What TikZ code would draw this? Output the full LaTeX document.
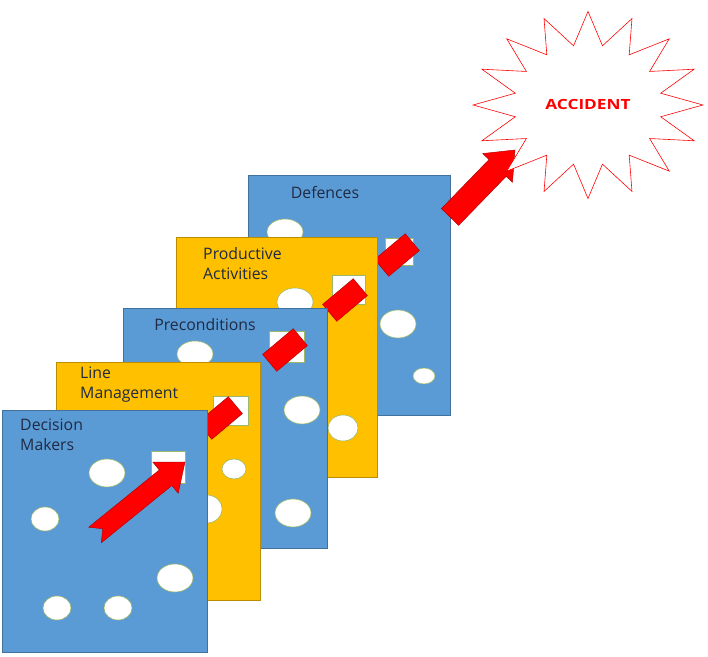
\documentclass[tikz,border=0pt]{standalone}
\usepackage{fontspec}
\setmainfont{Open Sans}
\usetikzlibrary{shapes.geometric, calc}
\definecolor{layerblue}{HTML}{5B9BD5}
\definecolor{layeryellow}{HTML}{FFC000}
\definecolor{bluedge}{HTML}{41719C}
\definecolor{yellowedge}{HTML}{BC8C00}
\definecolor{holeedge}{HTML}{9DB86A}
\definecolor{textdark}{HTML}{1F2A44}
\newcommand{\redarrow}[6]{%
  \fill[red, draw=red!70!black, line width=0.4pt]
    ($(#1)!#6!(#2)$) -- ($(#1)!#3!90:(#2)$)
    -- ($($(#2)!#5!(#1)$)!#3!90:(#2)$) -- ($($(#2)!#5!(#1)$)!#4!90:(#2)$)
    -- (#2)
    -- ($($(#2)!#5!(#1)$)!#4!-90:(#2)$) -- ($($(#2)!#5!(#1)$)!#3!-90:(#2)$)
    -- ($(#1)!#3!-90:(#2)$) -- cycle;}
\tikzset{
  bluelayer/.style={fill=layerblue, draw=bluedge, line width=0.6pt},
  yellowlayer/.style={fill=layeryellow, draw=yellowedge, line width=0.6pt},
  hole/.style={fill=white, draw=holeedge, line width=0.5pt},
  window/.style={fill=white, draw=holeedge, line width=0.4pt},
  piece/.style={rectangle, fill=red, draw=red!70!black, line width=0.4pt,
                minimum width=1.2cm, minimum height=0.66cm, rotate=40, inner sep=0pt},
  layertext/.style={font=\fontsize{13.5}{17}\selectfont, text=textdark, align=left, inner sep=0pt},
}
\begin{document}
\begin{tikzpicture}[x=0.03cm, y=0.03cm]
  \useasboundingbox (0,0) rectangle (708,657);

  %% Defences
  \draw[bluelayer] (248,242) rectangle (450,482);
  \node[layertext] (deftext) at (325,464) {Defences};
  \draw[hole] (285,425) ellipse [x radius=18, y radius=13];
  \draw[hole] (398,333) ellipse [x radius=18, y radius=14];
  \draw[hole] (424,281) ellipse [x radius=11, y radius=8];
  \draw[window] (385,392) rectangle (413,419);
  \node[piece] (pdef) at (397,402) {};

  %% Productive Activities
  \draw[yellowlayer] (176,180) rectangle (377,420);
  \node[layertext, anchor=north west] (prodtext) at (203,410) {Productive\\Activities};
  \draw[hole] (295,355) ellipse [x radius=18, y radius=14];
  \draw[hole] (343,229) ellipse [x radius=15, y radius=13];
  \draw[window] (332,353) rectangle (365,382);
  \node[piece] (pprod) at (345,357) {};

  %% Preconditions
  \draw[bluelayer] (123,109) rectangle (327,349);
  \node[layertext] (pretext) at (205,332) {Preconditions};
  \draw[hole] (195,303) ellipse [x radius=18, y radius=13];
  \draw[hole] (302,247) ellipse [x radius=18, y radius=14];
  \draw[hole] (293,144) ellipse [x radius=18, y radius=14];
  \draw[window] (269,295) rectangle (304,326);
  \node[piece] (ppre) at (285,307) {};

  %% Line Management
  \draw[yellowlayer] (56,57) rectangle (260,295);
  \node[layertext, anchor=north west] (linetext) at (80,290) {Line\\Management};
  \draw[hole] (234,188) ellipse [x radius=12, y radius=10];
  \draw[hole] (207,148) ellipse [x radius=15, y radius=14];
  \draw[window] (213,232) rectangle (248,261);
  \node[piece] (pline) at (220,239) {};

  %% Decision Makers
  \draw[bluelayer] (2,5) rectangle (207,247);
  \node[layertext, anchor=north west] (dectext) at (20,238) {Decision\\Makers};
  \foreach \x/\y/\rx/\ry in {107/184/18/14, 45/138/14/12, 175/79/18/14,
                             57/49/14/12, 118/49/14/12}{
    \draw[hole] (\x,\y) ellipse [x radius=\rx, y radius=\ry];
  }
  \draw[window] (151,174) rectangle (185,206);

  %% Trajectory
  \coordinate (starttail) at (95,122);
  \coordinate (starttip) at (185,195);
  \redarrow{starttail}{starttip}{0.3cm}{0.6cm}{0.75cm}{0.3cm}
  \coordinate (exittail) at (450,440);
  \coordinate (exittip) at (515,507);
  \redarrow{exittail}{exittip}{0.36cm}{0.62cm}{0.75cm}{0cm}

  %% Accident
  \node[star, star points=16, star point ratio=1.55, minimum size=6.1cm,
        draw=red, fill=white, line width=0.5pt, xscale=1.13, yscale=0.92,
        font=\bfseries\fontsize{13}{15}\selectfont, text=red] (accident) at (588,552) {ACCIDENT};
\end{tikzpicture}
\end{document}
